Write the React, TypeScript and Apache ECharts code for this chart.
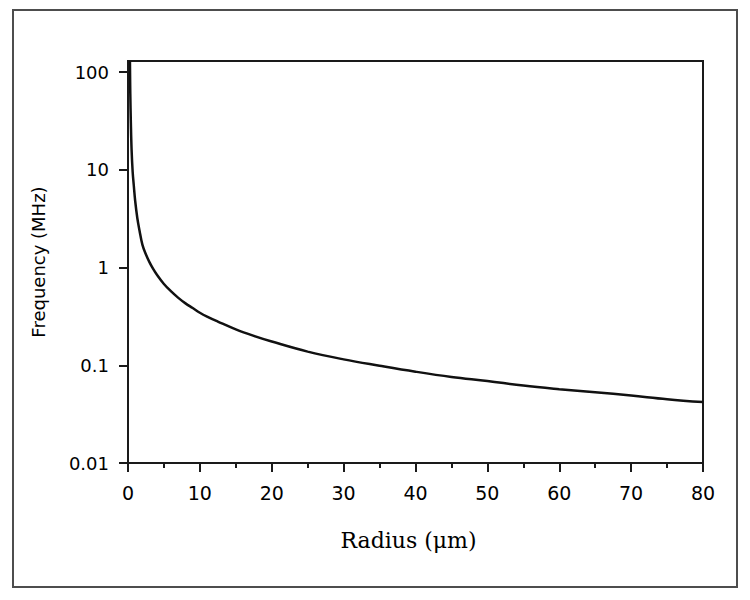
import React, { useEffect, useRef } from "react";
import * as echarts from "echarts";

// Radius (µm) and Frequency (MHz)
const radius = [0.27, 0.32, 0.4, 0.5, 0.65, 0.8, 1.0, 1.3, 1.6, 2.0, 2.5, 3.0, 3.5, 4, 5, 6, 7, 8, 9, 10, 11, 12.5, 15, 17.5, 20, 25, 30, 35, 40, 45, 50, 55, 60, 65, 70, 75, 80];
const frequency = [130, 60, 30, 16, 9.5, 7, 4.8, 3.2, 2.4, 1.72, 1.36, 1.13, 0.97, 0.85, 0.68, 0.57, 0.49, 0.43, 0.385, 0.345, 0.315, 0.28, 0.233, 0.2, 0.175, 0.138, 0.115, 0.099, 0.086, 0.076, 0.069, 0.062, 0.057, 0.053, 0.049, 0.045, 0.042];
const yTickLabels = ["0.01", "0.1", "1", "10", "100"];

export default function App() {
  const ref = useRef<HTMLDivElement>(null);
  useEffect(() => {
    document.body.style.margin = "0";
    const chart = echarts.init(ref.current!, null, { renderer: "svg" });
    const data = radius.map((r, i) => [r, frequency[i]]);
    const sans = "DejaVu Sans";
    chart.setOption({
      animation: false,
      backgroundColor: "#ffffff",
      graphic: [
        {
          type: "rect",
          shape: { x: 13, y: 10, width: 724, height: 577 },
          style: { fill: "none", stroke: "#4d4d4d", lineWidth: 2 },
          silent: true,
        },
      ],
      grid: {
        left: 128,
        right: 47,
        top: 61,
        bottom: 137,
        show: true,
        borderColor: "#1a1a1a",
        borderWidth: 2,
        backgroundColor: "transparent",
      },
      xAxis: {
        type: "value",
        min: 0,
        max: 80,
        interval: 10,
        name: "Radius (μm)",
        nameLocation: "middle",
        nameGap: 66,
        nameTextStyle: {
          fontFamily: "DejaVu Serif",
          fontSize: 22,
          color: "#000",
          padding: [0, 14, 0, 0],
        },
        axisLine: { show: true, onZero: false, lineStyle: { color: "#1a1a1a", width: 2 } },
        axisTick: { show: true, length: 9, lineStyle: { color: "#1a1a1a", width: 2 } },
        minorTick: { show: true, splitNumber: 2, length: 5, lineStyle: { color: "#1a1a1a", width: 2 } },
        splitLine: { show: false },
        axisLabel: { margin: 20, fontFamily: sans, fontSize: 19, color: "#000" },
      },
      yAxis: {
        type: "log",
        logBase: 10,
        min: 0.01,
        max: 130,
        name: "Frequency (MHz)",
        nameLocation: "middle",
        nameGap: 81,
        nameTextStyle: { fontFamily: sans, fontSize: 18, color: "#000" },
        axisLine: { show: true, onZero: false, lineStyle: { color: "#1a1a1a", width: 2 } },
        axisTick: { show: true, length: 9, lineStyle: { color: "#1a1a1a", width: 2 } },
        splitLine: { show: false },
        axisLabel: {
          margin: 19,
          fontFamily: sans,
          fontSize: 18,
          color: "#000",
          showMaxLabel: false,
          formatter: (v: number) => {
            const e = Math.log10(v);
            const idx = Math.round(e) + 2;
            if (Math.abs(e - Math.round(e)) < 1e-6 && idx >= 0 && idx < yTickLabels.length) {
              return yTickLabels[idx];
            }
            return "";
          },
        },
      },
      series: [
        {
          type: "line",
          data,
          showSymbol: false,
          smooth: 0.4,
          clip: true,
          lineStyle: { color: "#111", width: 2.5 },
        },
      ],
    });
    return () => chart.dispose();
  }, []);
  return <div ref={ref} style={{ width: 750, height: 600 }} />;
}
